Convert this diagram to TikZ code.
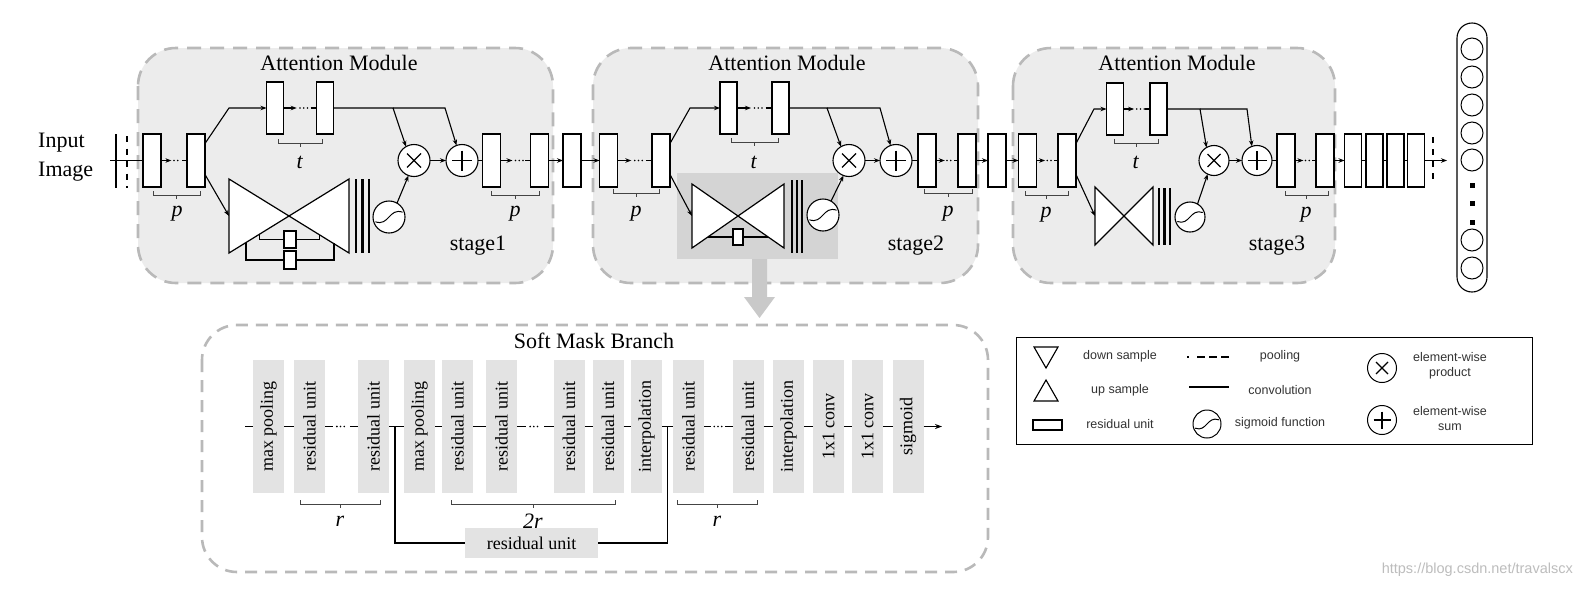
\documentclass[tikz,border=0pt]{standalone}
\usepackage{fontspec}
\setmainfont{Liberation Serif}
\setsansfont{Liberation Sans}
\usetikzlibrary{arrows.meta,calc}
\definecolor{stagefill}{HTML}{ECECEC}
\definecolor{dashgray}{HTML}{B9B9B9}
\definecolor{darkfill}{HTML}{D4D4D4}
\definecolor{barfill}{HTML}{E3E3E3}
\definecolor{bigarrow}{HTML}{C9C9C9}
\definecolor{brkcol}{HTML}{444444}
\definecolor{legtext}{HTML}{333333}
\definecolor{wmark}{HTML}{BDBDBD}

\newcommand{\xsym}[2]{\draw[line width=1.3pt] ($(#1)+(-#2,-#2)$) -- ($(#1)+(#2,#2)$) ($(#1)+(-#2,#2)$) -- ($(#1)+(#2,-#2)$);}
\newcommand{\psym}[2]{\draw[line width=1.3pt] ($(#1)+(-#2,0)$) -- ($(#1)+(#2,0)$) ($(#1)+(0,-#2)$) -- ($(#1)+(0,#2)$);}
\newcommand{\sgc}[2]{\draw[line width=1pt] ($(#1)+(-0.85*#2,0.3*#2)$) .. controls ($(#1)+(0,0.6*#2)$) and ($(#1)+(0,-0.6*#2)$) .. ($(#1)+(0.85*#2,-0.3*#2)$);}
\newcommand{\dconn}[2]{%
 \draw[arr] (#1.east) -- ($(#1.east)!0.4!(#2.west)$);
 \draw[dotl] ($(#1.east)!0.5!(#2.west)$) -- ($(#1.east)!0.78!(#2.west)$);
 \draw[conn] ($(#1.east)!0.82!(#2.west)$) -- (#2.west);}
\newcommand{\smdots}[2]{%
 \draw[smline] (#1.east) -- ($(#1.east)!0.25!(#2.west)$);
 \draw[dotl] ($(#1.east)!0.36!(#2.west)$) -- ($(#1.east)!0.66!(#2.west)$);
 \draw[smline] ($(#1.east)!0.75!(#2.west)$) -- (#2.west);}
\newcommand{\mybrk}[3]{%
 \draw[brkl] (#1,#3-4) -- (#1,#3) -- (#2,#3) -- (#2,#3-4);
 \draw[brkl] ({(#1+#2)/2},#3) -- ({(#1+#2)/2},#3+4);}
\newcommand{\smb}[3]{\node[smbar] (#1) at (#2,426.5) {}; \node[smtext] (#1t) at (#1) {#3};}

\begin{document}
\begin{tikzpicture}[x={(1pt,0)}, y={(0,-1pt)},
 conn/.style={line width=1.1pt},
 arr/.style={conn,-{Stealth[length=6pt,width=4.5pt]}},
 dotl/.style={line width=1.8pt, line cap=round, dash pattern=on 0pt off 3.7pt},
 ru/.style={draw, line width=1.1pt, fill=white, minimum width=18pt, minimum height=53pt, inner sep=0pt, outer sep=0pt},
 rut/.style={ru, minimum width=17pt, minimum height=52pt},
 opc/.style={circle, draw, line width=1.1pt, fill=white, minimum size=32pt, inner sep=0pt, outer sep=0pt},
 stagebox/.style={draw=dashgray, fill=stagefill, line width=2.6pt, dash pattern=on 14pt off 9pt, rounded corners=38pt},
 smbox/.style={draw=dashgray, line width=2.6pt, dash pattern=on 12pt off 8pt, rounded corners=35pt},
 hgbox/.style={inner sep=0pt, outer sep=0pt},
 hgline/.style={draw, fill=white, line width=1.2pt, line join=miter},
 small/.style={draw, line width=1.1pt, fill=white, inner sep=0pt, outer sep=0pt},
 conv/.style={line width=2.6pt},
 brkl/.style={draw=brkcol, line width=1pt},
 lab/.style={font=\fontsize{22}{26}\selectfont, inner sep=0pt},
 smtext/.style={rotate=90, font=\fontsize{18}{20}\selectfont, inner sep=0pt},
 smbar/.style={fill=barfill, minimum width=31pt, minimum height=133pt, inner sep=0pt, outer sep=0pt},
 smline/.style={line width=1.6pt},
 leg/.style={font=\sffamily\fontsize{12.5}{15}\selectfont, text=legtext, align=center, inner sep=0pt},
]
\fill[white] (0,0) rectangle (1578,592);
\useasboundingbox (0,0) rectangle (1578,592);

% ---------- stage boxes ----------
\draw[stagebox] (138,48) rectangle (553,283);
\draw[stagebox] (593,48) rectangle (978,283);
\draw[stagebox] (1013,48) rectangle (1335,283);
\node[fill=darkfill, minimum width=161pt, minimum height=86pt, inner sep=0pt] (dk) at (757.5,216) {};
\fill[bigarrow] (752,259) -- (767,259) -- (767,297) -- (775,297) -- (759.5,318) -- (744,297) -- (752,297) -- cycle;

% ---------- texts ----------
\node[lab] (am1) at (339,63) {Attention Module};
\node[lab] (am2) at (787,63) {Attention Module};
\node[lab] (am3) at (1177,63) {Attention Module};
\node[lab] (st1) at (478,246) {stage1};
\node[lab] (st2) at (916,246) {stage2};
\node[lab] (st3) at (1277,246) {stage3};
\node[lab, font=\fontsize{22}{29}\selectfont, align=left, anchor=west] (inp) at (38,157) {Input\\Image};

% ---------- hourglasses ----------
\node[hgbox, minimum width=120pt, minimum height=74pt] (HG1) at (289,216) {};
\draw[hgline] (HG1.north west) -- (HG1.south east) -- (HG1.north east) -- (HG1.south west) -- cycle;
\node[hgbox, minimum width=92pt, minimum height=64pt] (HG2) at (738,216) {};
\draw[hgline] (HG2.north west) -- (HG2.south east) -- (HG2.north east) -- (HG2.south west) -- cycle;
\node[hgbox, minimum width=58pt, minimum height=58pt] (HG3) at (1124,216) {};
\draw[hgline] (HG3.north west) -- (HG3.south east) -- (HG3.north east) -- (HG3.south west) -- cycle;

% loops inside hourglasses
\node[small, minimum width=12pt, minimum height=17pt] (L1) at (290,239.5) {};
\node[small, minimum width=12pt, minimum height=18pt] (L2) at (290,260) {};
\node[small, minimum width=10pt, minimum height=16pt] (L3) at (738,237) {};
\draw[conn] (259.5,234.5) |- (L1.west);
\draw[conn] (L1.east) -| (319.5,234.5);
\draw[conn] (246,243.1) |- (L2.west);
\draw[conn] (L2.east) -| (334,243.1);
\draw[conn] (707.8,237) -- (L3.west);
\draw[conn] (L3.east) -- (768.2,237);

% convolution bars
\foreach \xx in {356,362.5,369} \draw[conv] (\xx,179) -- (\xx,253);
\foreach \xx in {792,797,802} \draw[conv] (\xx,180) -- (\xx,253);
\foreach \xx in {1159,1164.5,1170} \draw[conv] (\xx,188) -- (\xx,245);

% ---------- residual units ----------
\node[ru] (R1) at (152,160.5) {};
\node[ru] (R2) at (196,160.5) {};
\node[ru] (R3) at (491.5,160.5) {};
\node[ru] (R4) at (539.5,160.5) {};
\node[ru] (R5) at (572,160.5) {};
\node[ru] (R6) at (608.5,160.5) {};
\node[ru] (R7) at (661,160.5) {};
\node[ru] (R8) at (927,160.5) {};
\node[ru] (R9) at (967,160.5) {};
\node[ru] (R10) at (997,160.5) {};
\node[ru] (R11) at (1027.5,160.5) {};
\node[ru] (R12) at (1067,160.5) {};
\node[ru] (R13) at (1286,160.5) {};
\node[ru] (R14) at (1325,160.5) {};
\node[ru, minimum width=17pt] (R15) at (1353,160.5) {};
\node[ru, minimum width=17pt] (R16) at (1374.5,160.5) {};
\node[ru, minimum width=17pt] (R17) at (1395.5,160.5) {};
\node[ru, minimum width=17pt] (R18) at (1416,160.5) {};
\node[rut] (T1) at (275,108) {};
\node[rut] (T2) at (325,108) {};
\node[rut] (T3) at (728.5,108) {};
\node[rut] (T4) at (780.5,108) {};
\node[rut] (T5) at (1115,109) {};
\node[rut] (T6) at (1158.5,109) {};

% operators
\node[opc] (M1) at (414,160.5) {}; \xsym{M1}{7}
\node[opc] (P1) at (462,160.5) {}; \psym{P1}{10}
\node[opc] (M2) at (849,160.5) {}; \xsym{M2}{7}
\node[opc] (P2) at (896,160.5) {}; \psym{P2}{10}
\node[opc, minimum size=30pt] (M3) at (1214,160.5) {}; \xsym{M3}{6.5}
\node[opc, minimum size=30pt] (P3) at (1257,160.5) {}; \psym{P3}{9.5}
\node[opc] (S1) at (389,217) {}; \sgc{S1}{16}
\node[opc] (S2) at (823,215) {}; \sgc{S2}{16}
\node[opc, minimum size=30pt] (S3) at (1190,217) {}; \sgc{S3}{15}

% coordinates
\coordinate (in0) at (110,160.5);
\coordinate (outA) at (1447,160.5);
\coordinate (c1) at (229,108);
\coordinate (c2) at (690,108);
\coordinate (c3) at (1094,109);
\coordinate (j1) at (393,108);
\coordinate (j2) at (445,108);
\coordinate (j3) at (827,108);
\coordinate (j4) at (880,108);
\coordinate (j5) at (1200,109);
\coordinate (j6) at (1247,109);

% pooling marks
\draw[conv] (116,134) -- (116,188);
\draw[conv, dash pattern=on 6pt off 6.5pt] (127,136) -- (127,188);
\draw[conv, dash pattern=on 6pt off 6pt] (1433,137) -- (1433,184);

% ---------- connectors ----------
\draw[conn] (in0) -- (R1.west);
\dconn{R1}{R2}
\draw[arr] ([yshift=17pt]R2.east) -- (c1) -- (T1.west);
\draw[arr] ([yshift=-14pt]R2.east) -- (HG1.west);
\dconn{T1}{T2}
\draw[arr] (T2.east) -- (j1) -- (M1.120);
\draw[arr] (j1) -- (j2) -- (P1.110);
\draw[arr] (S1.60) -- (M1.250);
\draw[arr] (M1.east) -- (P1.west);
\draw[conn] (P1.east) -- (R3.west);
\dconn{R3}{R4}
\draw[arr] (R4.east) -- (R5.west);
\draw[arr] (R5.east) -- (R6.west);
\dconn{R6}{R7}
\draw[arr] ([yshift=17pt]R7.east) -- (c2) -- (T3.west);
\draw[arr] ([yshift=-14pt]R7.east) -- (HG2.west);
\dconn{T3}{T4}
\draw[arr] (T4.east) -- (j3) -- (M2.120);
\draw[arr] (j3) -- (j4) -- (P2.110);
\draw[arr] (S2.60) -- (M2.250);
\draw[arr] (M2.east) -- (P2.west);
\draw[conn] (P2.east) -- (R8.west);
\dconn{R8}{R9}
\draw[arr] (R9.east) -- (R10.west);
\draw[arr] (R10.east) -- (R11.west);
\dconn{R11}{R12}
\draw[arr] ([yshift=17pt]R12.east) -- (c3) -- (T5.west);
\draw[arr] ([yshift=-14pt]R12.east) -- (HG3.west);
\dconn{T5}{T6}
\draw[arr] (T6.east) -- (j5) -- (M3.120);
\draw[arr] (j5) -- (j6) -- (P3.110);
\draw[arr] (S3.60) -- (M3.245);
\draw[arr] (M3.east) -- (P3.west);
\draw[conn] (P3.east) -- (R13.west);
\dconn{R13}{R14}
\draw[arr] (R14.east) -- (R15.west);
\draw[conn] (R15.east) -- (R16.west);
\draw[conn] (R16.east) -- (R17.west);
\draw[conn] (R17.east) -- (R18.west);
\draw[arr] (R18.east) -- (outA);

% braces and labels
\mybrk{153}{200}{195}
\mybrk{491}{539}{195}
\mybrk{613}{659}{193}
\mybrk{924}{972}{193}
\mybrk{1025}{1068}{195}
\mybrk{1285}{1328}{195}
\mybrk{278}{322}{143}
\mybrk{731}{778}{142}
\mybrk{1114}{1158}{143}
\node[lab] (p1) at (177,214) {\textit{p}};
\node[lab] (p2) at (515,214) {\textit{p}};
\node[lab] (p3) at (636,214) {\textit{p}};
\node[lab] (p4) at (948,214) {\textit{p}};
\node[lab] (p5) at (1046,215) {\textit{p}};
\node[lab] (p6) at (1306,215) {\textit{p}};
\node[lab] (t1) at (300,162) {\textit{t}};
\node[lab] (t2) at (754,162) {\textit{t}};
\node[lab] (t3) at (1136,162) {\textit{t}};

% ---------- output column ----------
\node[draw, line width=1.1pt, rounded corners=15pt, minimum width=30pt, minimum height=269pt, inner sep=0pt] (outc) at (1472,157.5) {};
\foreach \yy/\nm in {49/o1,77/o2,105/o3,133/o4,160/o5,240/o6,268/o7}
  \node[circle, draw, line width=1pt, minimum size=22pt, inner sep=0pt] (\nm) at (1472,\yy) {};
\foreach \yy/\nm in {185/q1,203/q2,222/q3}
  \node[fill=black, minimum size=5pt, inner sep=0pt] (\nm) at (1472,\yy) {};

% ---------- soft mask branch ----------
\draw[smbox] (202,325) rectangle (988,572);
\node[lab] (smt) at (594,341) {Soft Mask Branch};
\smb{b1}{268.5}{max pooling}
\smb{b2}{309.5}{residual unit}
\smb{b3}{373.5}{residual unit}
\smb{b4}{419.5}{max pooling}
\smb{b5}{457.5}{residual unit}
\smb{b6}{501.5}{residual unit}
\smb{b7}{569}{residual unit}
\smb{b8}{608}{residual unit}
\smb{b9}{646.5}{interpolation}
\smb{b10}{688.5}{residual unit}
\smb{b11}{748}{residual unit}
\smb{b12}{788.5}{interpolation}
\smb{b13}{828.5}{1x1 conv}
\smb{b14}{867.5}{1x1 conv}
\smb{b15}{908}{sigmoid}
\node[fill=barfill, minimum width=133pt, minimum height=30pt, inner sep=0pt, font=\fontsize{18}{20}\selectfont] (rb) at (531.5,543) {residual unit};
\coordinate (s0) at (245,426.5);
\coordinate (sE) at (942,426.5);
\coordinate (ja) at ($(b3.east)!0.4!(b4.west)$);
\coordinate (jb) at ($(b9.east)!0.5!(b10.west)$);
\draw[smline] (s0) -- (b1.west);
\draw[smline] (b1.east) -- (b2.west);
\smdots{b2}{b3}
\draw[smline] (b3.east) -- (b4.west);
\draw[smline] (ja) |- (rb.west);
\draw[smline] (rb.east) -| (jb);
\draw[smline] (b4.east) -- (b5.west);
\draw[smline] (b5.east) -- (b6.west);
\smdots{b6}{b7}
\draw[smline] (b7.east) -- (b8.west);
\draw[smline] (b8.east) -- (b9.west);
\draw[smline] (b9.east) -- (b10.west);
\smdots{b10}{b11}
\draw[smline] (b11.east) -- (b12.west);
\draw[smline] (b12.east) -- (b13.west);
\draw[smline] (b13.east) -- (b14.west);
\draw[smline] (b14.east) -- (b15.west);
\draw[smline, -{Stealth[length=7pt,width=5pt]}] (b15.east) -- (sE);
\mybrk{300}{380}{504}
\mybrk{451}{615}{504}
\mybrk{677}{757}{504}
\node[lab] (r1) at (340,521) {\textit{r}};
\node[lab] (r2) at (533,521) {\textit{2r}};
\node[lab] (r3) at (717,521) {\textit{r}};

% ---------- legend ----------
\node[draw, line width=1pt, minimum width=516pt, minimum height=107pt, inner sep=0pt] (legbox) at (1274,390.5) {};
\draw[line width=1.1pt, line join=miter] (1034,347) -- (1058,347) -- (1046,368) -- cycle;
\draw[line width=1.1pt, line join=miter] (1034,401) -- (1058,401) -- (1046,380) -- cycle;
\draw[line width=1.1pt] (1033,420) rectangle (1062,430);
\draw[line width=2.6pt, dash pattern=on 1.5pt off 8.5pt on 8pt off 4pt on 8pt off 4pt on 8pt off 60pt] (1187,357) -- (1229,357);
\draw[line width=2.6pt] (1189,387) -- (1229,387);
\node[opc, minimum size=28pt, line width=1pt] (lsg) at (1207,424) {}; \sgc{lsg}{14}
\node[opc, minimum size=29pt, line width=1pt] (lmul) at (1382,368) {}; \xsym{lmul}{6}
\node[opc, minimum size=29pt, line width=1pt] (lplus) at (1382,420) {}; \psym{lplus}{8.5}
\node[leg] (lt1) at (1120,356) {down sample};
\node[leg] (lt2) at (1120,390) {up sample};
\node[leg] (lt3) at (1120,424) {residual unit};
\node[leg] (lt4) at (1280,356) {pooling};
\node[leg] (lt5) at (1280,390) {convolution};
\node[leg] (lt6) at (1280,423) {sigmoid function};
\node[leg] (lt7) at (1450,366) {element-wise\\product};
\node[leg] (lt8) at (1450,419) {element-wise\\sum};

% watermark
\node[font=\sffamily\fontsize{14.5}{16}\selectfont, text=wmark, anchor=east, inner sep=0pt] (wm) at (1573,570) {https://blog.csdn.net/travalscx};
\end{tikzpicture}
\end{document}
